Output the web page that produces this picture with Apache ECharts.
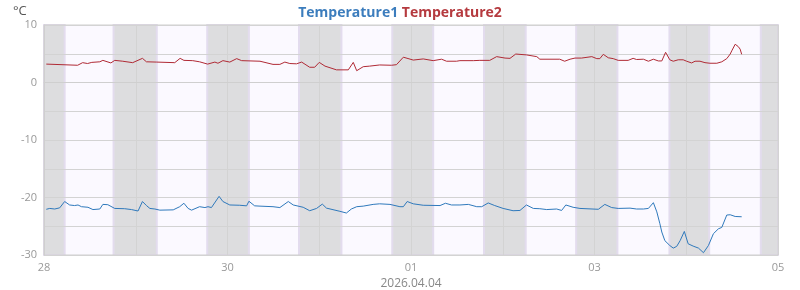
<!DOCTYPE html>
<html><head><meta charset="utf-8">
<script src="https://cdn.jsdelivr.net/npm/echarts@6/dist/echarts.min.js"></script>
<style>html,body{margin:0;padding:0;background:#fff}#c{width:800px;height:290px}</style>
</head><body><div id="c"></div>
<script>
// x values are hours since 2026-03-28 00:00
const dayLabels = ['28','29','30','31','01','02','03','04','05'];
const yTickLabels = ['-30','-20','-10','0','10'];
const axisDateName = '2026.04.04';
const seriesNames = ['Temperature1','Temperature2'];

const t1Hours = [0.6,1.5,2.8,4.1,5.4,6.7,8.0,8.9,9.8,11.5,12.8,14.6,15.4,16.7,18.5,21.1,22.9,23.3,24.6,25.75,26.8,27.7,29.0,30.3,33.8,35.5,36.6,37.7,38.6,40.7,42.1,42.9,43.8,45.8,46.8,48.6,51.2,53.0,53.6,55.1,56.5,59.9,61.7,63.9,65.2,67.8,69.5,71.3,72.8,73.9,77.4,79.1,80.4,81.8,83.5,86.1,87.8,90.5,93.1,94.0,95.0,96.6,99.2,103.6,105.0,106.6,108.8,111.0,113.2,114.5,116.2,117.9,120.1,122.7,124.5,126.2,128.0,129.7,131.5,134.1,135.4,136.5,138.4,140.2,145.0,146.7,148.5,150.2,153.3,155.0,156.8,158.1,159.4,160.3,161.1,161.6,162.4,163.7,164.6,165.5,166.4,167.5,168.5,169.8,171.2,172.5,173.8,175.1,176.4,177.3,178.6,179.5,180.8,182.5];
const t1Values = [-22.05,-21.9,-22.0,-21.8,-20.7,-21.3,-21.4,-21.3,-21.6,-21.7,-22.1,-22.0,-21.2,-21.25,-21.9,-21.95,-22.1,-22.4,-22.35,-20.7,-21.4,-21.9,-22.0,-22.2,-22.15,-21.6,-21.0,-21.9,-22.2,-21.6,-21.75,-21.6,-21.75,-19.8,-20.7,-21.3,-21.35,-21.45,-20.65,-21.45,-21.5,-21.6,-21.75,-20.7,-21.3,-21.7,-22.3,-21.9,-21.15,-21.85,-22.4,-22.7,-22.0,-21.6,-21.5,-21.2,-21.1,-21.2,-21.6,-21.6,-20.7,-21.1,-21.35,-21.4,-21.0,-21.3,-21.3,-21.2,-21.6,-21.6,-20.95,-21.4,-21.9,-22.3,-22.25,-21.3,-21.9,-21.95,-22.1,-22.0,-22.25,-21.3,-21.7,-21.9,-22.05,-21.2,-21.75,-21.9,-21.85,-22.0,-22.0,-21.9,-20.9,-22.5,-24.55,-26.0,-27.5,-28.35,-28.8,-28.5,-27.5,-25.9,-28.05,-28.45,-28.8,-29.6,-28.35,-26.3,-25.45,-25.2,-23.05,-23.0,-23.3,-23.35];

const t2Hours = [0.6,1.0,8.8,10.1,11.4,12.5,14.6,15.4,17.5,18.5,20.6,23.2,25.75,26.8,29.5,34.2,35.6,36.6,38.9,40.7,42.8,44.7,45.5,46.8,48.6,50.4,51.7,56.5,59.9,61.7,63.0,64.3,66.05,67.4,69.5,70.8,72.0,73.5,76.5,79.6,80.9,81.8,83.5,85.2,87.8,90.9,92.2,94.0,96.6,99.2,101.8,104.0,105.3,107.9,108.8,112.3,114.0,116.6,118.4,120.6,121.9,123.4,126.2,128.9,129.7,134.9,136.2,137.6,138.9,140.6,143.3,144.6,145.4,146.3,147.6,148.9,150.2,152.8,154.1,155.0,156.8,158.1,159.4,160.7,161.6,162.6,163.7,164.6,165.9,167.2,168.1,169.4,170.3,171.6,172.9,174.2,176.0,177.3,178.6,179.5,179.9,180.8,181.6,182.1,182.5];
const t2Values = [3.2,3.0,3.0,3.45,3.3,3.5,3.6,3.85,3.4,3.85,3.7,3.45,4.2,3.6,3.55,3.45,4.2,3.85,3.8,3.6,3.2,3.55,3.35,3.8,3.55,4.15,3.8,3.7,3.15,3.15,3.55,3.3,3.25,3.55,2.65,2.65,3.5,2.85,2.2,2.2,3.5,2.05,2.75,2.85,3.05,3.0,3.1,4.4,3.9,4.1,3.8,4.05,3.7,3.7,3.8,3.8,3.85,3.85,4.5,4.25,4.2,4.95,4.8,4.5,4.05,4.05,3.7,4.05,4.25,4.25,4.5,4.15,4.15,4.9,4.3,4.15,3.85,3.85,4.2,4.0,4.05,3.7,4.05,3.75,3.75,5.25,3.95,3.7,3.95,3.95,3.7,3.4,3.7,3.7,3.45,3.35,3.35,3.6,4.15,4.95,5.5,6.65,6.25,5.8,4.9];

const nightStart = [0,18.2,42.7,66.7,91.1,115.1,139.2,163.6,187.5];
const nightEnd   = [5.4,29.5,53.6,77.8,101.8,126.0,150.0,174.0,192];

const xMin = 0, xMax = 192;

function zip(a, b){ return a.map((v,i)=>[v,b[i]]); }

const chart = echarts.init(document.getElementById('c'), null, {renderer:'canvas'});
const FONT = '"Open Sans","Noto Sans",sans-serif';

const bandData = [[{xAxis:xMin, itemStyle:{color:'#fbf9ff', borderWidth:0}},{xAxis:xMax}]];
nightStart.forEach((s,i)=>{
  bandData.push([{xAxis:s, itemStyle:{color:'#dddddf', borderColor:'#e3dcee', borderWidth:2}},{xAxis:nightEnd[i]}]);
});

chart.setOption({
  animation:false,
  backgroundColor:'#fff',
  title:[{
    text:'{a|'+seriesNames[0]+'} {b|'+seriesNames[1]+'}',
    left:'center', top:1,
    textStyle:{
      fontFamily:FONT, fontSize:14, fontWeight:'bold',
      rich:{
        a:{color:'#3c7dbd', fontFamily:FONT, fontSize:14, fontWeight:'bold'},
        b:{color:'#b53a3f', fontFamily:FONT, fontSize:14, fontWeight:'bold'}
      }
    }
  },{
    text:'°C', left:8, top:0,
    textStyle:{fontFamily:FONT, fontSize:13, fontWeight:'normal', color:'#555'}
  }],
  grid:{left:44, right:22, top:25, bottom:35, outerBoundsMode:'none', containLabel:false,
        show:true, borderColor:'#cfcfcf', borderWidth:1, backgroundColor:'transparent'},
  xAxis:{
    type:'value', min:xMin, max:xMax, interval:24, z:2,
    name:axisDateName, nameLocation:'middle', nameGap:20,
    nameTextStyle:{fontFamily:FONT, fontSize:12, color:'#888'},
    axisLine:{show:true, lineStyle:{color:'#cfcfcf'}},
    axisTick:{show:false},
    axisLabel:{
      margin:7, color:'#999', fontFamily:FONT, fontSize:11,
      formatter:function(v){ const i=Math.round(v/24); return (i%2===0)? dayLabels[i] : ''; }
    },
    splitLine:{show:true, lineStyle:{color:'#d3d3d3', width:1}}
  },
  yAxis:{
    type:'value', min:-30, max:10, interval:5, z:2,
    axisLine:{show:true, lineStyle:{color:'#cfcfcf'}},
    axisTick:{show:false},
    axisLabel:{
      margin:7, color:'#999', fontFamily:FONT, fontSize:11,
      formatter:function(v){ const s=String(v); return yTickLabels.indexOf(s)>=0 ? s : ''; }
    },
    splitLine:{show:true, lineStyle:{color:'#d3d3d3', width:1}}
  },
  series:[{
    type:'line', name:'bands', z:-1, data:[], silent:true,
    markArea:{silent:true, z:-1, data:bandData}
  },{
    type:'line', name:seriesNames[0], data:zip(t1Hours,t1Values), showSymbol:false, symbol:'none',
    lineStyle:{color:'#2f79bc', width:1}, itemStyle:{color:'#2f79bc'}, z:3
  },{
    type:'line', name:seriesNames[1], data:zip(t2Hours,t2Values), showSymbol:false, symbol:'none',
    lineStyle:{color:'#b02a35', width:1}, itemStyle:{color:'#b02a35'}, z:3
  }]
});
</script></body></html>
